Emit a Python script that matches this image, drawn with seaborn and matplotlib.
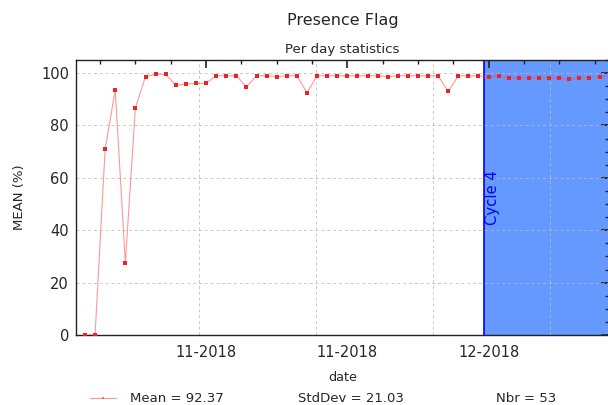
import numpy as np
import pandas as pd
import matplotlib
matplotlib.use("Agg")
import matplotlib.pyplot as plt
import matplotlib.dates as mdates
from matplotlib.ticker import MultipleLocator, AutoMinorLocator, FixedLocator
from matplotlib.lines import Line2D
import seaborn as sns

# ---- data ----
start_date = "2018-10-24"
mean_values = [0.0, 0.0, 71.0, 93.5, 27.6, 86.8, 98.7, 99.5, 99.5, 95.4,
               95.8, 96.1, 96.1, 99.0, 99.0, 99.0, 94.7, 99.0, 99.0, 98.7,
               99.0, 99.0, 92.5, 99.0, 99.0, 99.0, 99.0, 99.0, 99.0, 99.0,
               98.7, 99.0, 99.0, 99.0, 99.0, 99.0, 93.0, 99.0, 99.0, 99.0,
               98.7, 99.0, 98.2, 98.2, 98.2, 98.2, 98.2, 98.2, 97.7, 98.2,
               98.2, 98.6, 98.8]
major_tick_dates = ["2018-11-05", "2018-11-19", "2018-12-03"]
tick_format = "%m-%Y"
vgrid_dates = ["2018-11-04 08:00", "2018-11-15 21:36", "2018-11-27 12:00", "2018-12-09 02:24"]
cycle_start = "2018-12-02 12:00"
cycle_label = "Cycle 4"
xlim_dates = ["2018-10-23 02:40", "2018-12-14 22:20"]
title = "Presence Flag"
subtitle = "Per day statistics"
legend_texts = ["Mean = 92.37", "StdDev = 21.03", "Nbr = 53"]

dates = pd.date_range(start_date, periods=len(mean_values), freq="D")
df = pd.DataFrame({"date": dates, "mean": mean_values})

sns.set_style("white")
plt.rcParams["font.family"] = ["DejaVu Sans"]

fig = plt.figure(figsize=(6.08, 4.05), dpi=100)
ax = fig.add_axes([0.125, 0.1728, 0.8766, 0.679])

# cycle region
ax.axvspan(pd.Timestamp(cycle_start), pd.Timestamp(xlim_dates[1]) + pd.Timedelta(days=5),
           color="#6699ff", zorder=0, lw=0)
ax.axvline(pd.Timestamp(cycle_start), color="#0000ff", lw=1.2, zorder=1)
ax.text(pd.Timestamp(cycle_start) + pd.Timedelta(hours=22), 52.5, cycle_label,
        rotation=90, color="#0000ff", fontsize=10.7, ha="center", va="center", zorder=3)

# grid
for d in vgrid_dates:
    ax.axvline(pd.Timestamp(d), color="#bbbbbb", lw=0.7, ls=(0, (3, 3)), zorder=1.5, alpha=0.8)
for yv in [20, 40, 60, 80, 100]:
    ax.axhline(yv, color="#bbbbbb", lw=0.7, ls=(0, (3, 3)), zorder=1.5, alpha=0.8)

# data
sns.lineplot(data=df, x="date", y="mean", ax=ax, color="#ff4444", lw=0.8, alpha=0.55, zorder=4)
sns.scatterplot(data=df, x="date", y="mean", ax=ax, color="#ee2222", marker="s", s=5,
                linewidth=0, zorder=5)

ax.set_xlim(pd.Timestamp(xlim_dates[0]), pd.Timestamp(xlim_dates[1]))
ax.set_ylim(0, 105)
ax.xaxis.set_major_locator(FixedLocator(mdates.date2num(pd.to_datetime(major_tick_dates))))
ax.xaxis.set_major_formatter(mdates.DateFormatter(tick_format))
ax.xaxis.set_minor_locator(AutoMinorLocator(4))
ax.yaxis.set_major_locator(MultipleLocator(20))
ax.yaxis.set_minor_locator(MultipleLocator(5))
ax.tick_params(which="both", direction="in", top=True, right=True, color="#222222")
ax.tick_params(which="major", length=6, width=1.2, labelsize=10.5, pad=5)
ax.tick_params(axis="x", which="major", pad=7)
ax.tick_params(which="minor", length=3, width=1.0)
for sp in ax.spines.values():
    sp.set_color("#222222")
    sp.set_linewidth(1.0)

ax.set_xlabel("date", fontsize=9.2, labelpad=8)
ax.set_ylabel("MEAN (%)", fontsize=9.5, labelpad=11)

xc = 342.5 / 608
fig.text(xc, 1 - 20 / 405, title, fontsize=11.5, ha="center", va="center")
fig.text(xc, 1 - 49 / 405, subtitle, fontsize=9.6, ha="center", va="center")

handle = Line2D([], [], color="#ff4444", lw=0.8, alpha=0.55, marker="s", markersize=2,
                markerfacecolor="#ee2222", markeredgewidth=0)
fig.legend([handle], [legend_texts[0]], loc="center left",
           bbox_to_anchor=(89.5 / 608, 1 - 399 / 405), frameon=False, fontsize=9.5,
           borderpad=0, borderaxespad=0, handlelength=2, handletextpad=1.05)
fig.text(298.2 / 608, 1 - 399 / 405, legend_texts[1], fontsize=9.5, ha="left", va="center")
fig.text(495.8 / 608, 1 - 399 / 405, legend_texts[2], fontsize=9.5, ha="left", va="center")

fig.savefig("out.png", dpi=100)
